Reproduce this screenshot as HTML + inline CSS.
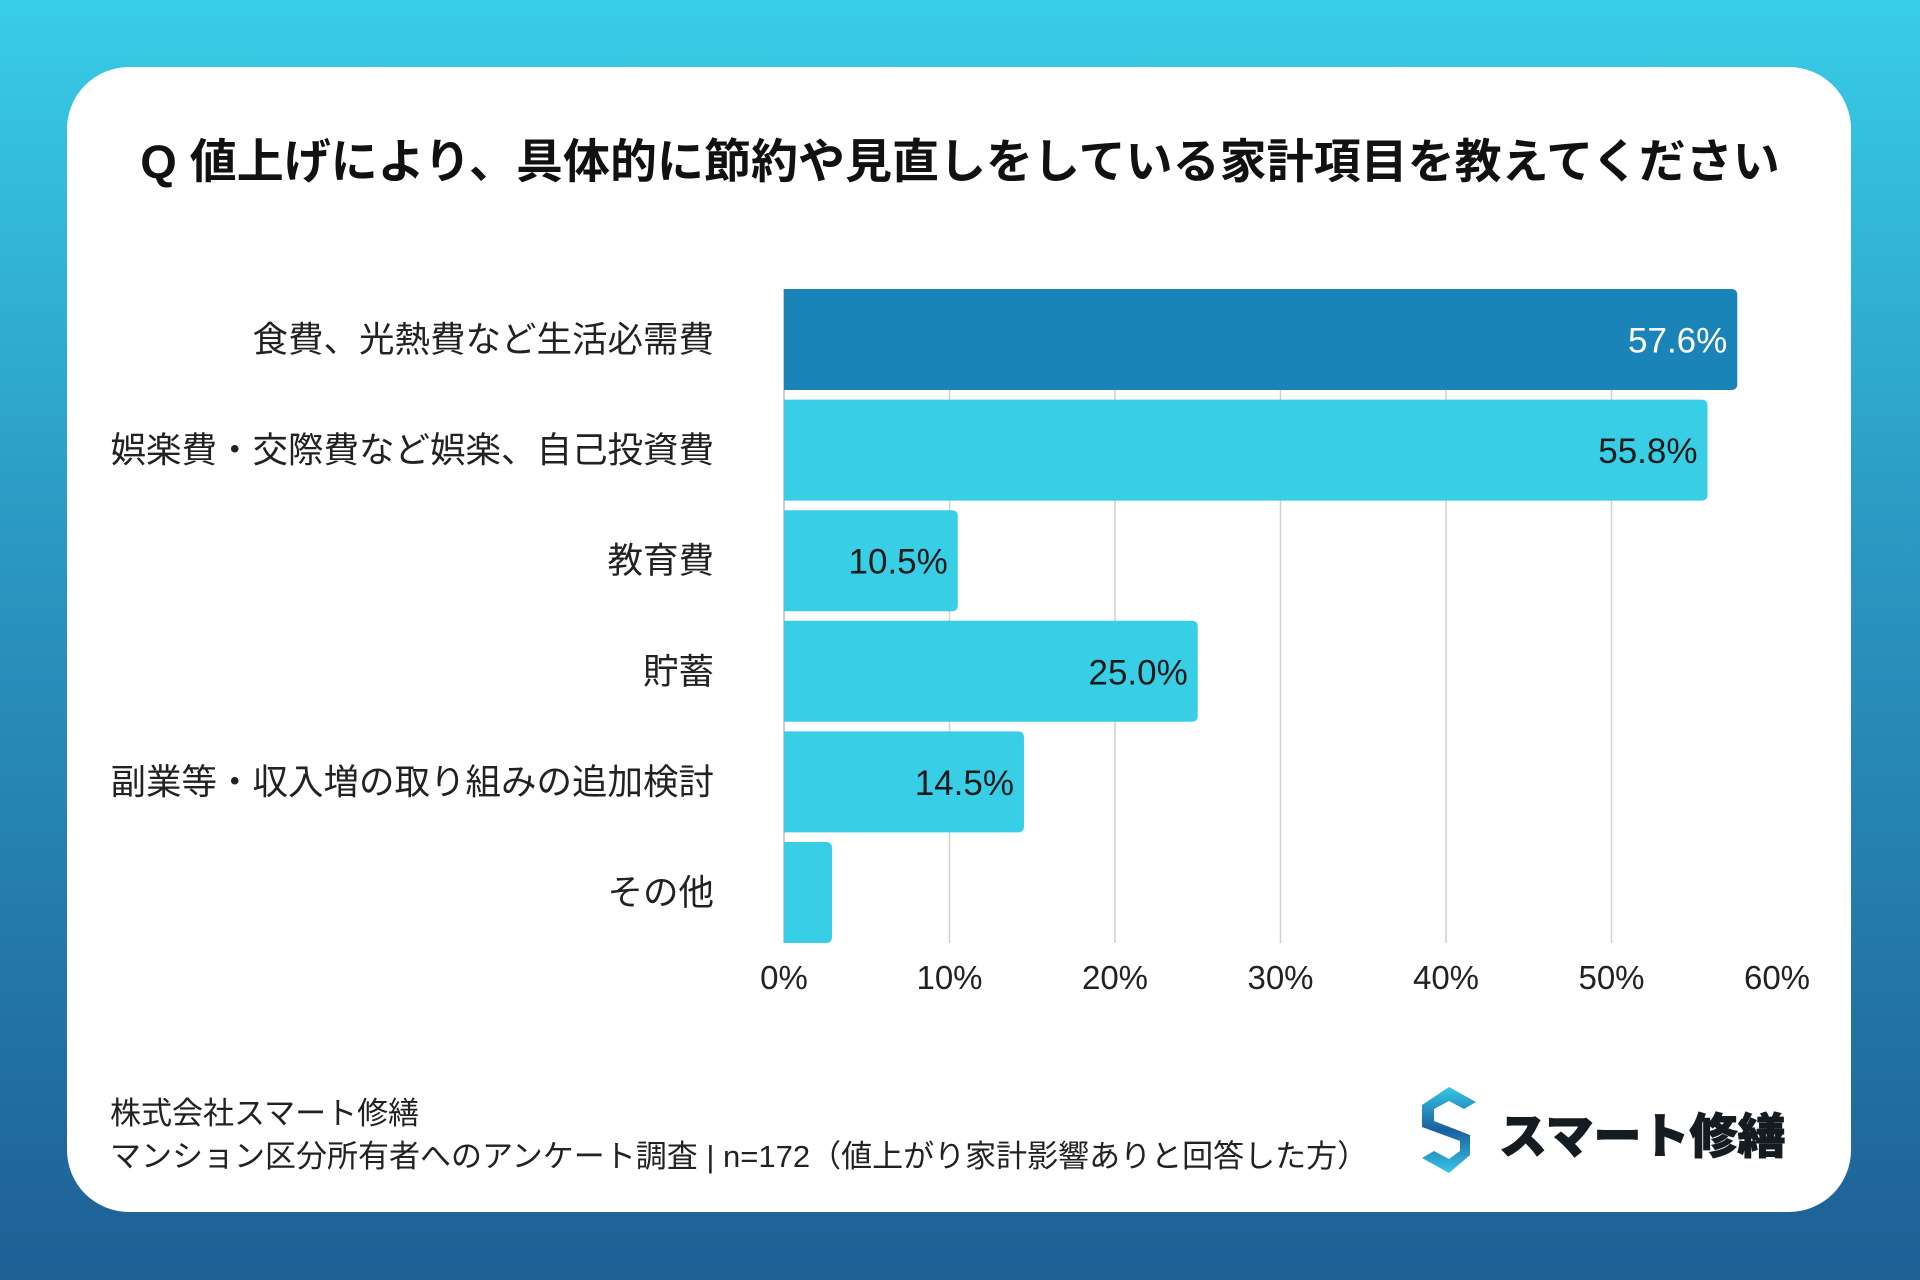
<!DOCTYPE html>
<html><head><meta charset="utf-8">
<style>
body{margin:0;width:1920px;height:1280px;overflow:hidden;background:linear-gradient(180deg,#38cde6 0%,#2a95c0 45%,#1e5f94 100%);font-family:"Liberation Sans","Noto Sans CJK JP",sans-serif;}
#card{position:absolute;left:67px;top:67px;width:1784px;height:1145px;background:#fff;border-radius:62px;}
#title{position:absolute;left:0;top:123px;width:1920px;text-align:center;font-size:47px;font-weight:bold;color:#111;}
.ft{position:absolute;left:110px;font-size:31px;color:#222;white-space:nowrap;}
</style></head><body>
<div id="card"></div>
<div id="title">Q 値上げにより、具体的に節約や見直しをしている家計項目を教えてください</div>
<svg id="chart" width="1920" height="1280" style="position:absolute;left:0;top:0"></svg>
<div class="ft" style="top:1088px">株式会社スマート修繕</div>
<div class="ft" style="top:1131px">マンション区分所有者へのアンケート調査 | n=172（値上がり家計影響ありと回答した方）</div>
<svg style="position:absolute;left:1418px;top:1085px" width="62" height="90" viewBox="0 0 62 90">
<defs><linearGradient id="lg" x1="0" y1="0" x2="0" y2="1"><stop offset="0" stop-color="#35c8e6"/><stop offset="0.5" stop-color="#1b5fa0"/><stop offset="1" stop-color="#35c8e6"/></linearGradient></defs>
<path d="M31 2 L58 17 L46 24 L31 16 L16 24 L16 36 L52 50 L52 70 L31 88 L4 73 L16 66 L31 74 L42 66 L42 56 L4 42 L4 20 Z" fill="url(#lg)"/>
</svg>
<div style="position:absolute;left:1499px;top:1097px;font-size:48px;font-weight:900;color:#141c22;white-space:nowrap;-webkit-text-stroke:1px #141c22">スマート修繕</div>
<script>
const categories=["食費、光熱費など生活必需費","娯楽費・交際費など娯楽、自己投資費","教育費","貯蓄","副業等・収入増の取り組みの追加検討","その他"];
const values=[57.6,55.8,10.5,25.0,14.5,2.9];
const valueLabels=["57.6%","55.8%","10.5%","25.0%","14.5%",""];
const ticks=[0,10,20,30,40,50,60];
const tickLabels=["0%","10%","20%","30%","40%","50%","60%"];
const NS="http://www.w3.org/2000/svg";
const svg=document.getElementById('chart');
const x0=784,x1=1777,top0=289,step=110.6,bh=101;
const xs=v=>x0+(v-0)/(60-0)*(x1-x0);
const yc=i=>top0+bh/2+i*step;
function mk(t,a){const e=document.createElementNS(NS,t);for(const k in a)e.setAttribute(k,a[k]);svg.appendChild(e);return e;}
ticks.forEach((t,i)=>{
  if(i>0&&i<ticks.length-1){const l=mk('line',{x1:xs(t),x2:xs(t),y1:top0,y2:top0+5*step+bh,stroke:'#d0d0d0','stroke-width':1.5});
  
  }
  const tx=mk('text',{x:xs(t),y:989,'text-anchor':'middle','font-size':33,fill:'#222'});
  tx.textContent=tickLabels[i];
  
  
});
mk('line',{x1:x0,x2:x0,y1:top0,y2:top0+5*step+bh,stroke:'#bbb','stroke-width':1.5});
categories.forEach((c,i)=>{
  const w=xs(values[i])-x0;
  const p=mk('path',{d:`M${x0} ${yc(i)-bh/2} H${x0+w-6} Q${x0+w} ${yc(i)-bh/2} ${x0+w} ${yc(i)-bh/2+6} V${yc(i)+bh/2-6} Q${x0+w} ${yc(i)+bh/2} ${x0+w-6} ${yc(i)+bh/2} H${x0} Z`,fill:i===0?'#1a84b8':'#38cfe6'});
  
  
  const lb=mk('text',{x:714,y:yc(i)+12,'text-anchor':'end','font-size':35.5,fill:'#222'});
  lb.textContent=c;
  
  
  if(valueLabels[i]){
    const vl=mk('text',{x:x0+w-10,y:yc(i)+13,'text-anchor':'end','font-size':35,fill:i===0?'#fff':'#1a1a1a'});
    vl.textContent=valueLabels[i];
    
    
  }
});
</script>
</body></html>
